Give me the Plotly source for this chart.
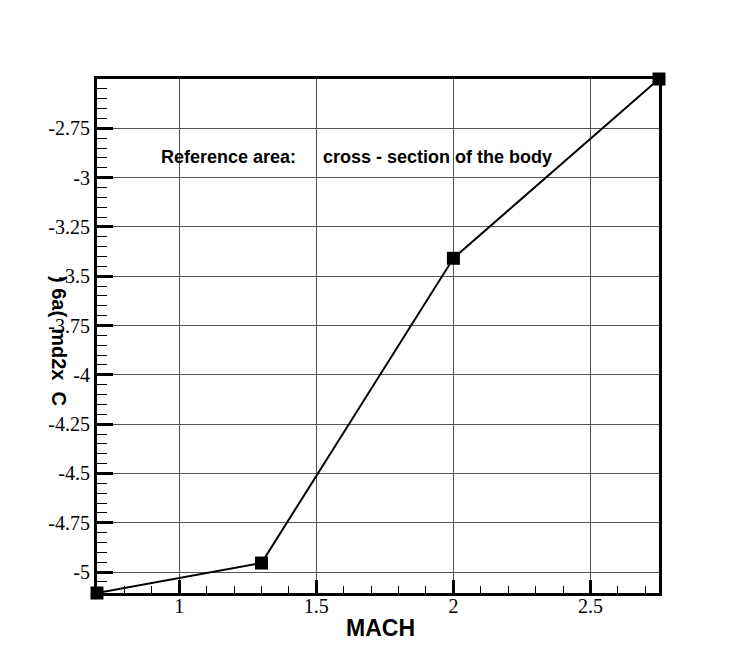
import plotly.graph_objects as go

# ---- data ----
mach = [0.7, 1.3, 2.0, 2.75]
coeff = [-5.106, -4.954, -3.409, -2.5]

x_tick_vals = [1, 1.5, 2, 2.5]
x_tick_text = ["1", "1.5", "2", "2.5"]
y_tick_vals = [-2.75, -3, -3.25, -3.5, -3.75, -4, -4.25, -4.5, -4.75, -5]
y_tick_text = ["-2.75", "-3", "-3.25", "-3.5", "-3.75", "-4", "-4.25", "-4.5", "-4.75", "-5"]

x_title = "MACH"
y_title = ") 6a(  md2x  C"
note_left = "Reference area:"
note_right = "cross - section of the body"

fig = go.Figure()
fig.add_trace(go.Scatter(
    x=mach, y=coeff, mode="lines+markers",
    line=dict(color="black", width=2),
    marker=dict(symbol="square", size=13, color="black"),
    cliponaxis=False, showlegend=False,
))

tick_font = dict(family="Liberation Serif", size=20, color="black")

fig.update_layout(
    width=750, height=667,
    margin=dict(l=97, r=91, t=79, b=74),
    paper_bgcolor="white", plot_bgcolor="white",
    xaxis=dict(
        range=[0.7, 2.75],
        tickmode="array", tickvals=x_tick_vals, ticktext=x_tick_text,
        ticks="inside", ticklen=13, tickwidth=3, tickcolor="black",
        showline=True, linecolor="black", linewidth=3, mirror=True,
        showgrid=True, gridcolor="#555555", gridwidth=1,
        zeroline=False, tickfont=tick_font, ticklabelstandoff=-7,
        minor=dict(tickmode="linear", tick0=0.7, dtick=0.1, ticks="inside",
                   ticklen=7, tickwidth=1, tickcolor="black", showgrid=False),
    ),
    yaxis=dict(
        range=[-5.106, -2.5],
        tickmode="array", tickvals=y_tick_vals, ticktext=y_tick_text,
        ticks="inside", ticklen=16, tickwidth=3, tickcolor="black",
        showline=True, linecolor="black", linewidth=3, mirror=True,
        showgrid=True, gridcolor="#555555", gridwidth=1,
        zeroline=False, tickfont=tick_font,
        minor=dict(tickmode="linear", tick0=-5, dtick=0.05, ticks="inside",
                   ticklen=10, tickwidth=1, tickcolor="black", showgrid=False),
    ),
    annotations=[
        dict(text="<b>%s</b>" % note_left, x=0.927, y=-2.897, xref="x", yref="y",
             xanchor="left", yanchor="middle", showarrow=False,
             font=dict(family="Liberation Sans", size=18, color="black")),
        dict(text="<b>%s</b>" % note_right, x=1.518, y=-2.897, xref="x", yref="y",
             xanchor="left", yanchor="middle", showarrow=False,
             font=dict(family="Liberation Sans", size=18, color="black")),
        dict(text="<b>%s</b>" % x_title, x=0.5, y=0, xref="paper", yref="paper",
             xanchor="center", yanchor="middle", xshift=2, yshift=-35,
             showarrow=False,
             font=dict(family="Liberation Sans", size=23, color="black")),
        dict(text="<b>%s</b>" % y_title, x=0, y=0.5, xref="paper", yref="paper",
             xanchor="center", yanchor="middle", xshift=-38, yshift=-5,
             textangle=90, showarrow=False,
             font=dict(family="Liberation Sans", size=20, color="black")),
    ],
)

fig.write_html("out.html")
